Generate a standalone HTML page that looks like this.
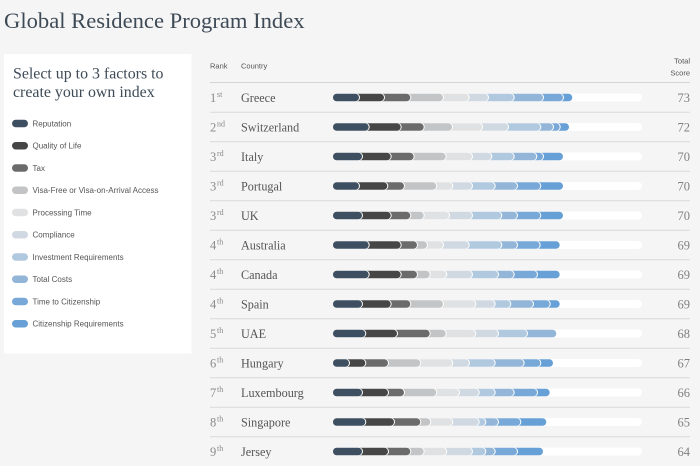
<!DOCTYPE html>
<html><head><meta charset="utf-8"><style>
html,body{margin:0;padding:0;background:#f5f5f5;}
svg{display:block;}
.serif{font-family:"Liberation Serif",serif;}
.sans{font-family:"Liberation Sans",sans-serif;}
</style></head><body>
<svg width="700" height="466" viewBox="0 0 700 466" xmlns="http://www.w3.org/2000/svg">
<rect width="700" height="466" fill="#f5f5f5"/>
<text x="4" y="28" class="serif" font-size="22.6" fill="#3e4b57">Global Residence Program Index</text>
<rect x="4" y="54" width="187.5" height="299.5" fill="#ffffff"/>
<text x="13" y="78.5" class="serif" font-size="15.9" fill="#3e4b57">Select up to 3 factors to</text>
<text x="13" y="97" class="serif" font-size="15.9" fill="#3e4b57">create your own index</text>
<g id="legend" class="sans" font-size="8" fill="#555"></g>
<text x="210" y="68.5" class="sans" font-size="7.5" fill="#555">Rank</text>
<text x="241" y="68.5" class="sans" font-size="7.5" fill="#555">Country</text>
<text x="690" y="63.5" class="sans" font-size="7.5" fill="#555" text-anchor="end">Total</text>
<text x="690" y="75.5" class="sans" font-size="7.5" fill="#555" text-anchor="end">Score</text>
<line x1="210" y1="82.5" x2="690" y2="82.5" stroke="#d4d4d4" stroke-width="1"/>
<g id="rows"></g>
</svg>
<script>
var colors=["#3d4f60","#464646","#6b6b6b","#c2c4c6","#e0e1e2","#d0d9e1","#b1c9df","#93b6d8","#78a8d8","#66a0d6"];
var labels=["Reputation","Quality of Life","Tax","Visa-Free or Visa-on-Arrival Access","Processing Time","Compliance","Investment Requirements","Total Costs","Time to Citizenship","Citizenship Requirements"];
var NS="http://www.w3.org/2000/svg";
function el(t,a,p){var e=document.createElementNS(NS,t);for(var k in a)e.setAttribute(k,a[k]);p.appendChild(e);return e;}
var lg=document.getElementById("legend");
for(var k=0;k<10;k++){var cy=123.5+22.25*k;
el("rect",{x:12,y:cy-3.75,width:16,height:7.5,rx:3.75,fill:colors[k]},lg);
var t=el("text",{x:32.5,y:cy+2.8},lg);t.textContent=labels[k];}
var data=[
["1","st","Greece",73,[359,384,410.3,443,468.7,488,513.7,543,563,572.3]],
["2","nd","Switzerland",72,[368.7,400.7,423.7,452,482,508,540.3,553,559.7,569]],
["3","rd","Italy",70,[362,390.7,413.7,445.7,472,491.3,513.7,536.3,543,563]],
["3","rd","Portugal",70,[359,387.3,404,436.3,452.3,472,494.7,517,540.3,563]],
["3","rd","UK",70,[362,390.7,410.3,423.7,449,472,501.3,517,540.3,563]],
["4","th","Australia",69,[368.7,400.7,417,427,443,468.7,501.3,517,539.7,559.7]],
["4","th","Canada",69,[368.7,400.7,417,429.7,446.3,472,498,513.7,537,559.7]],
["4","th","Spain",69,[362,390.7,410.3,443,475.3,494.7,510.3,533,549.7,559.7]],
["5","th","UAE",68,[365.3,397,429.7,445.7,475.3,498,527,556.3]],
["6","th","Hungary",67,[349,365.3,388,420.3,452.3,469,494.7,523.7,540.3,553]],
["7","th","Luxembourg",66,[362,388,404,436.3,459,478.7,494.7,513.7,537,549.7]],
["8","th","Singapore",65,[365.3,394,420.3,430.3,452.3,478.7,485.3,498,520.3,546.3]],
["9","th","Jersey",64,[362,388,410.3,423.7,446.3,472,485.3,494.7,517,543]]];
var rg=document.getElementById("rows");
for(var i=0;i<data.length;i++){var d=data[i];var c=97.5+29.5*i;
if(i<12)el("line",{x1:210,y1:c+14.75,x2:690,y2:c+14.75,stroke:"#dadada","stroke-width":1},rg);
var t=el("text",{x:210,y:c+4.5,"class":"serif","font-size":12.5,fill:"#8a8a8a"},rg);t.textContent=d[0];
var s=el("text",{x:217,y:c-0.5,"class":"serif","font-size":8,fill:"#8a8a8a"},rg);s.textContent=d[1];
var n=el("text",{x:241,y:c+4.5,"class":"serif","font-size":12.2,fill:"#555"},rg);n.textContent=d[2];
var sc=el("text",{x:690,y:c+4.5,"class":"serif","font-size":12.5,fill:"#808080","text-anchor":"end"},rg);sc.textContent=d[3];
el("rect",{x:333,y:c-4,width:309,height:8,rx:4,fill:"#ffffff"},rg);
var e=d[4];
for(var k=e.length-1;k>=0;k--){
el("rect",{x:333,y:c-4,width:e[k]-333+1,height:8,rx:4,fill:"#ffffff"},rg);
el("rect",{x:333,y:c-3.7,width:e[k]-333,height:7.4,rx:3.7,fill:colors[k]},rg);}
}
</script>
</body></html>
